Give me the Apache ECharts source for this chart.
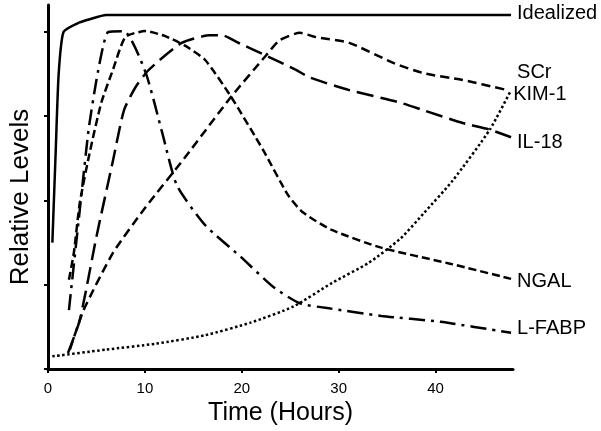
<!DOCTYPE html>
<html>
<head>
<meta charset="utf-8">
<script src="https://cdn.jsdelivr.net/npm/echarts@6/dist/echarts.min.js"></script>
<style>
  html, body { margin: 0; padding: 0; background: #fff; }
  #chart { width: 601px; height: 431px; }
</style>
</head>
<body>
<div id="chart"></div>
<script>
// values: [hours, relative level]
const idealized = [[0.45, 1.5], [0.8, 2.6], [1.1, 3.5], [1.6, 4.0], [3.0, 4.1], [4.3, 4.15], [6.0, 4.2], [47.8, 4.2]];
const scr = [[0.45, 0.15], [6.0, 0.23], [11.1, 0.3], [16.2, 0.4], [20.9, 0.55], [25.3, 0.74], [29.3, 1.02], [33.1, 1.26],
  [36.4, 1.55], [38.8, 1.85], [41.8, 2.24], [45.6, 2.84], [47.8, 3.31]];
const kim1 = [[2.26, 0.23], [3.68, 0.7], [6.72, 1.38], [10.07, 1.92], [14.13, 2.51], [18.9, 3.23], [22.5, 3.72], [23.9, 3.9],
  [26.0, 3.99], [27.6, 3.94], [31.1, 3.87], [35.7, 3.63], [38.8, 3.51], [42.8, 3.43], [47.4, 3.31]];
const il18 = [[2.06, 0.19], [3.28, 0.58], [5.0, 1.57], [6.72, 2.48], [7.84, 3.07], [9.06, 3.35], [10.4, 3.55], [13.8, 3.87],
  [16.7, 3.96], [18.0, 3.96], [19.5, 3.88], [22.5, 3.72], [25.6, 3.55], [27.0, 3.46], [31.1, 3.31], [36.1, 3.17],
  [38.8, 3.07], [42.8, 2.92], [45.6, 2.84], [47.8, 2.75]];
const ngal = [[2.16, 1.06], [2.67, 1.38], [3.28, 1.97], [4.29, 2.56], [5.5, 3.16], [6.7, 3.55], [8.0, 3.94], [10.07, 4.01],
  [12.1, 3.95], [14.1, 3.84], [16.2, 3.67], [18.9, 3.23], [22.2, 2.6], [24.8, 2.06], [26.3, 1.86], [29.3, 1.65],
  [34.4, 1.44], [41.5, 1.25], [47.8, 1.07]];
const lfabp = [[2.16, 0.7], [3.17, 1.77], [4.19, 2.84], [5.0, 3.43], [5.71, 3.84], [6.22, 4.0], [7.84, 4.01], [10.07, 3.52],
  [11.8, 2.8], [13.3, 2.18], [16.2, 1.71], [19.9, 1.33], [23.3, 0.97], [26.0, 0.78], [29.0, 0.72], [34.4, 0.63],
  [40.5, 0.56], [47.8, 0.43]];
const xTicks = [0, 10, 20, 30, 40];
const yTicks = [0, 1, 2, 3, 4];

const font = 'Liberation Sans, Arial, sans-serif';
const chart = echarts.init(document.getElementById('chart'));

// one line + its end label
function line(name, data, dash, width, labelDy) {
  return {
    name: name,
    type: 'line',
    data: data,
    symbol: 'none',
    smooth: 0.2,
    lineStyle: { color: '#000', width: width, type: dash },
    endLabel: {
      show: true,
      formatter: name,
      color: '#000',
      fontFamily: font,
      fontSize: 20,
      distance: 6,
      offset: [0, labelDy]
    },
    emphasis: { disabled: true }
  };
}

chart.setOption({
  animation: false,
  grid: { left: 41, top: 5, width: 472, height: 364 },
  xAxis: {
    type: 'value',
    min: 0,
    max: 48,
    interval: 10,
    name: 'Time (Hours)',
    nameLocation: 'middle',
    nameGap: 28,
    nameTextStyle: { color: '#000', fontFamily: font, fontSize: 25 },
    axisLine: { onZero: false, lineStyle: { color: '#000', width: 3 } },
    axisTick: { show: true, length: 4, lineStyle: { width: 2 }, customValues: xTicks },
    axisLabel: { color: '#000', fontFamily: font, fontSize: 15, margin: 12, customValues: xTicks },
    splitLine: { show: false }
  },
  yAxis: {
    type: 'value',
    min: 0,
    max: 4.32,
    interval: 1,
    name: 'Relative Levels',
    nameLocation: 'middle',
    nameGap: 14,
    nameTextStyle: { color: '#000', fontFamily: font, fontSize: 26, padding: [0, 20, 0, 0] },
    axisLine: { show: true, onZero: false, lineStyle: { color: '#000', width: 3 } },
    axisTick: { show: true, length: 4, lineStyle: { width: 2 }, customValues: yTicks },
    axisLabel: { show: false },
    splitLine: { show: false }
  },
  series: [
    line('Idealized', idealized, 'solid', 2.5, -2),
    line('SCr', scr, [2.5, 2.5], 2.5, -18),
    line('KIM-1', kim1, [9, 5], 2.5, 4),
    line('IL-18', il18, [17, 7], 2.5, 5),
    line('NGAL', ngal, [8, 4], 2.5, 3),
    line('L-FABP', lfabp, [16, 6, 3, 6], 2.5, -4)
  ]
});
</script>
</body>
</html>
